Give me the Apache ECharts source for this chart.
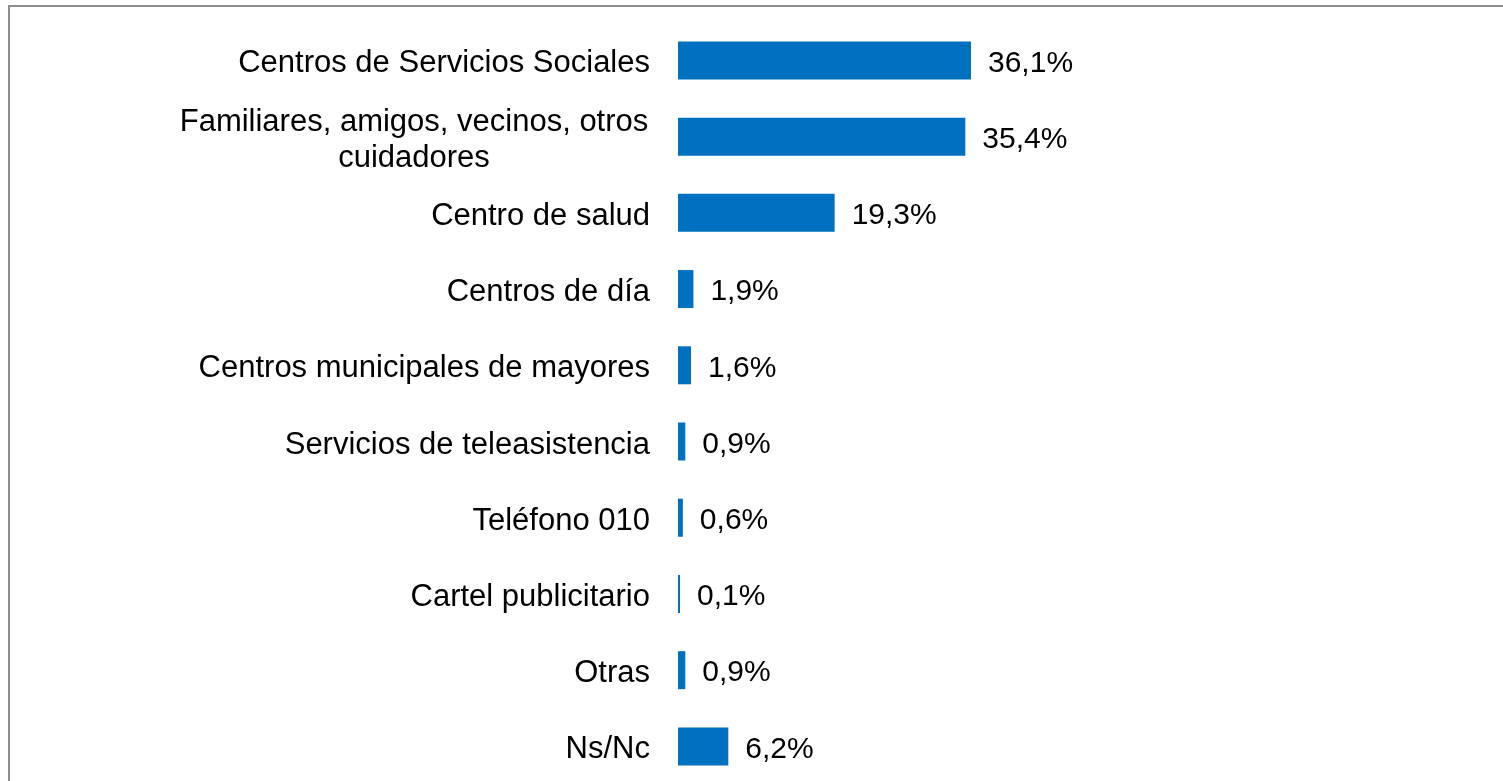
<!DOCTYPE html>
<html>
<head>
<meta charset="utf-8">
<script src="https://cdn.jsdelivr.net/npm/echarts@6/dist/echarts.min.js"></script>
<style>
html,body{margin:0;padding:0;background:#fff;overflow:hidden;}
#chart{width:1503px;height:820px;}
</style>
</head>
<body>
<div id="chart"></div>
<script>
const categories = [
  "Centros de Servicios Sociales",
  "Familiares, amigos, vecinos, otros\ncuidadores",
  "Centro de salud",
  "Centros de día",
  "Centros municipales de mayores",
  "Servicios de teleasistencia",
  "Teléfono 010",
  "Cartel publicitario",
  "Otras",
  "Ns/Nc"
];
const values = [36.1, 35.4, 19.3, 1.9, 1.6, 0.9, 0.6, 0.1, 0.9, 6.2];

const chart = echarts.init(document.getElementById('chart'), null, {renderer: 'canvas'});
const FONT = 'Liberation Sans, Arial, sans-serif';
chart.setOption({
  animation: false,
  backgroundColor: '#fff',
  grid: {left: 678, top: 22.3, width: 811.6, height: 762.2, containLabel: false},
  xAxis: {
    type: 'value', min: 0, max: 100,
    show: false
  },
  yAxis: {
    type: 'category',
    inverse: true,
    data: categories,
    axisLine: {show: false},
    axisTick: {show: false},
    axisLabel: {
      margin: 28,
      color: '#000',
      fontFamily: FONT,
      fontSize: 31,
      lineHeight: 36,
      align: 'right',
      padding: [7, 0, 0, 0],
      formatter: v => v.indexOf('\n') >= 0
        ? v.split('\n').map(s => '{c|' + s + '}').join('\n')
        : v,
      rich: {
        c: {width: 472, align: 'center', fontFamily: FONT, fontSize: 31, lineHeight: 36, color: '#000'}
      }
    }
  },
  series: [{
    type: 'bar',
    data: values,
    barWidth: 38,
    barMinHeight: 2,
    itemStyle: {color: '#0070C0'},
    label: {
      show: true,
      position: 'right',
      distance: 17,
      offset: [0, 3],
      color: '#000',
      fontFamily: FONT,
      fontSize: 30,
      formatter: p => p.value.toFixed(1).replace('.', ',') + '%'
    }
  }],
  graphic: [
    {type: 'line', shape: {x1: 9, y1: 6, x2: 9, y2: 820}, style: {stroke: '#8e8e8e', lineWidth: 2}},
    {type: 'line', shape: {x1: 8, y1: 6, x2: 1503, y2: 6}, style: {stroke: '#8e8e8e', lineWidth: 2}}
  ]
});
</script>
</body>
</html>
